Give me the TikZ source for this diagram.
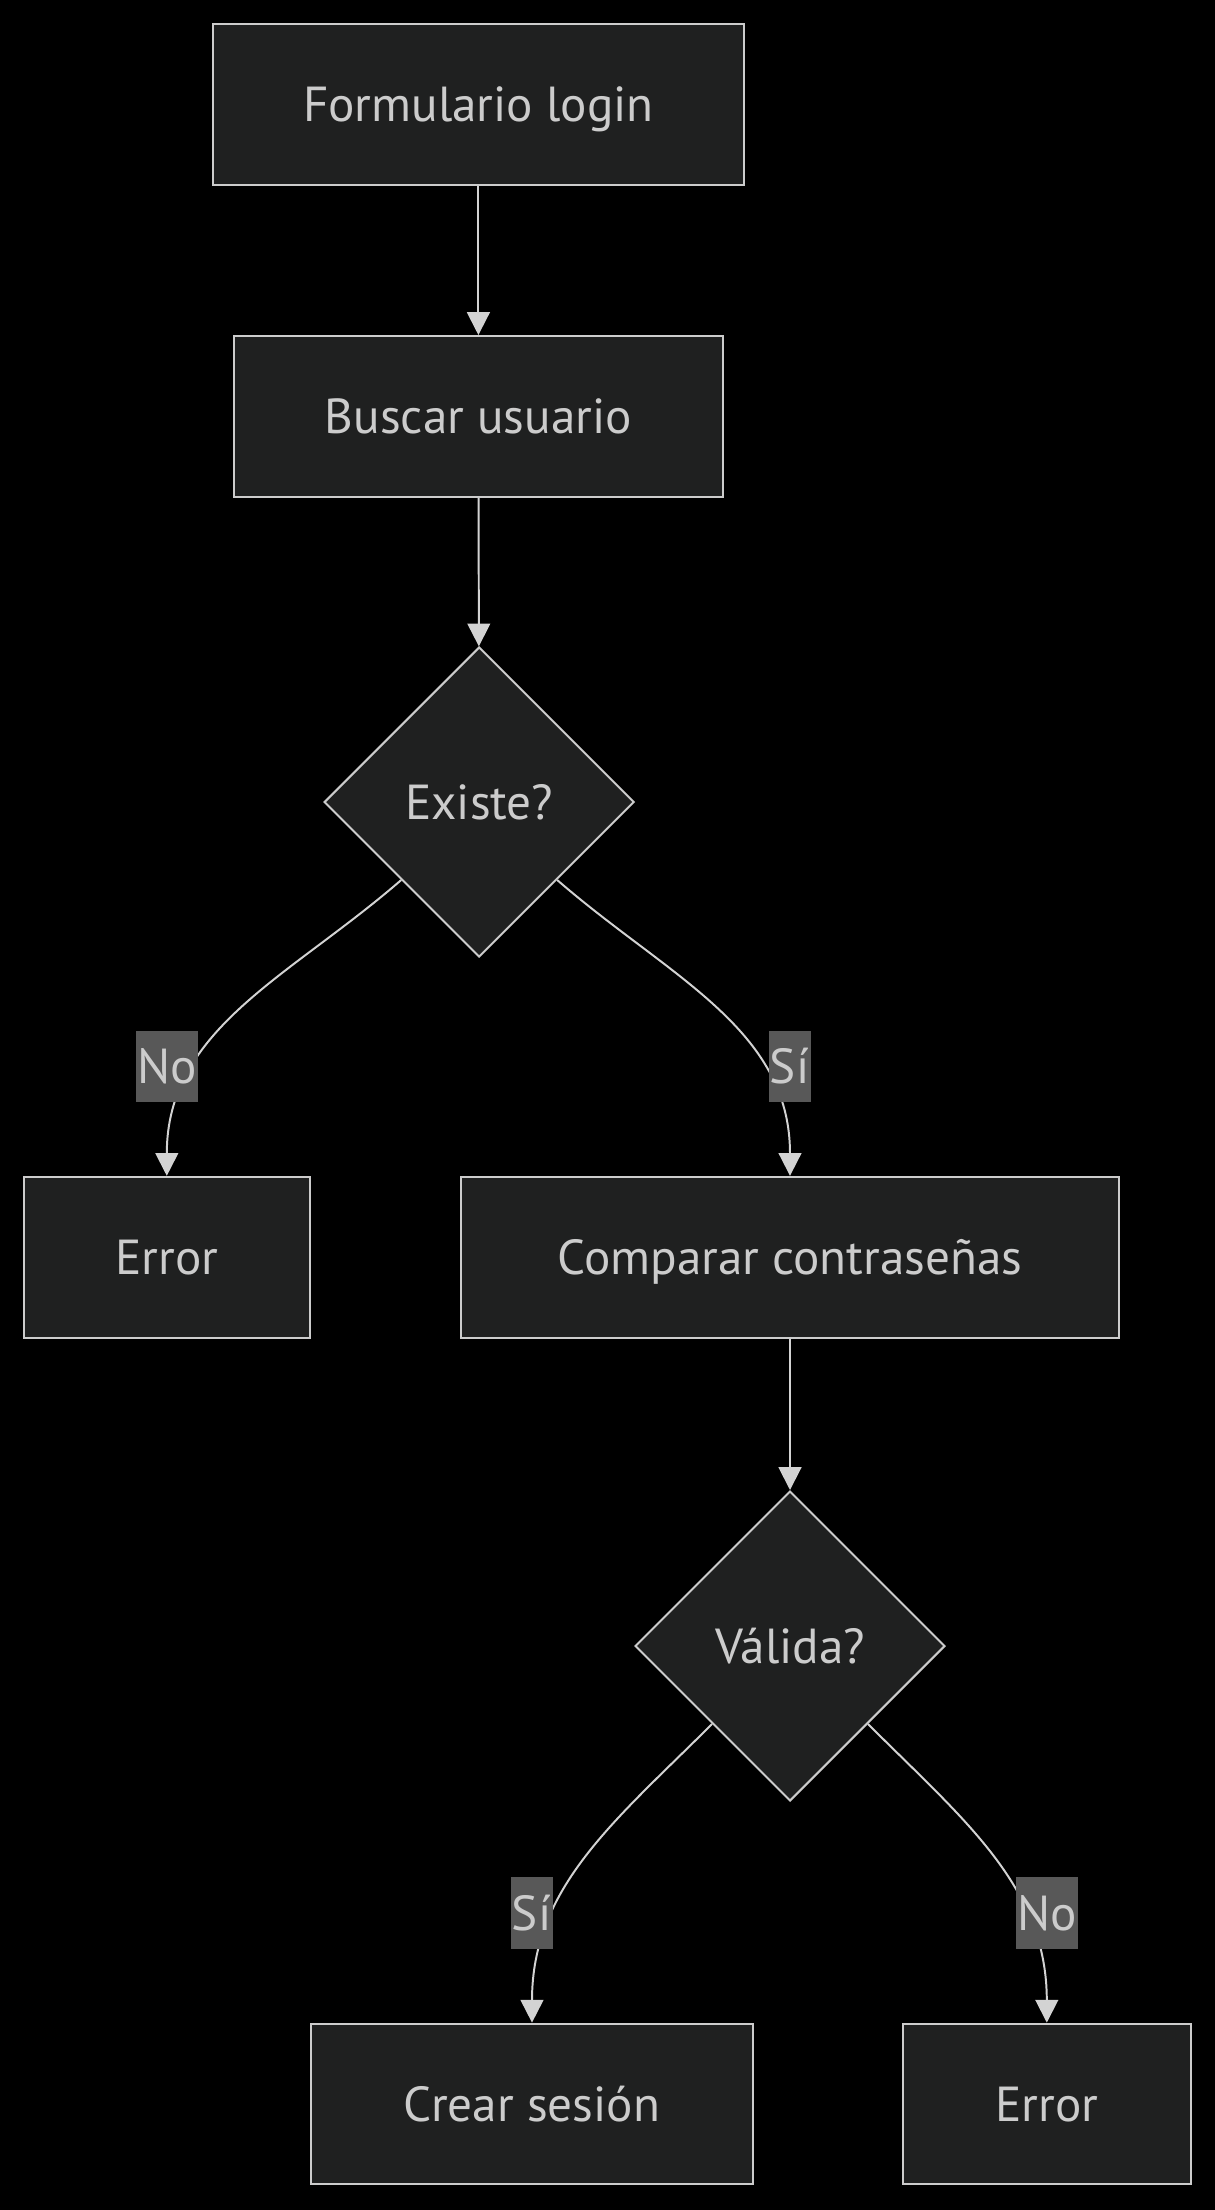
\documentclass[tikz,border=0pt]{standalone}
\usepackage{fontspec}
\setmainfont{PT Sans}
\usepackage{xcolor}
\usepackage{tikz}
\usetikzlibrary{shapes.geometric,arrows.meta}
\definecolor{bg}{HTML}{000000}
\definecolor{nodefill}{HTML}{1F2020}
\definecolor{stroke}{HTML}{CCCCCC}
\definecolor{txt}{HTML}{CCCCCC}
\definecolor{wire}{HTML}{D3D3D3}
\definecolor{lblbg}{HTML}{585858}
\tikzset{
  box/.style={draw=stroke, fill=nodefill, line width=1.4pt, minimum height=4.02cm, inner sep=0pt, text=txt, text height=29pt, text depth=4.5pt, font=\fontsize{35}{40}\selectfont},
  decision/.style={diamond, aspect=1, draw=stroke, fill=nodefill, line width=1.4pt, minimum size=7.75cm, inner sep=0pt, text=txt, text height=29pt, text depth=4.5pt, font=\fontsize{35}{40}\selectfont},
  edge/.style={draw=wire, line width=1.4pt, -{Triangle[length=0.57cm,width=0.57cm]}},
  lbl/.style={fill=lblbg, text=txt, inner xsep=1pt, inner ysep=0pt, minimum height=1.79cm, text height=29pt, text depth=4.5pt, font=\fontsize{35}{40}\selectfont},
}
\begin{document}
\begin{tikzpicture}
  \fill[bg] (0,0) rectangle (30.375,-55.25);

  \node[box, minimum width=13.28cm] (form) at (11.96,-2.61) {Formulario login};
  \node[box, minimum width=12.22cm] (buscar) at (11.96,-10.41) {Buscar usuario};
  \node[decision] (existe) at (11.98,-20.05) {Existe?};
  \node[box, minimum width=7.15cm] (err1) at (4.17,-31.43) {Error};
  \node[box, minimum width=16.45cm] (comparar) at (19.75,-31.43) {Comparar contraseñas};
  \node[decision] (valida) at (19.75,-41.15) {Válida?};
  \node[box, minimum width=11.06cm] (crear) at (13.3,-52.6) {Crear sesión};
  \node[box, minimum width=7.19cm] (err2) at (26.17,-52.6) {Error};

  \draw[edge] (form) -- (buscar);
  \draw[edge] (buscar) -- (existe);
  \draw[edge] (existe.south west) to[out=-139,in=90] (err1.north);
  \draw[edge] (existe.south east) to[out=-41,in=90] (comparar.north);
  \draw[edge] (comparar) -- (valida);
  \draw[edge] (valida.south west) to[out=-135,in=90] (crear.north);
  \draw[edge] (valida.south east) to[out=-45,in=90] (err2.north);

  % edge labels
  \node[lbl] (no1) at (4.17,-26.66) {No};
  \node[lbl] (si1) at (19.74,-26.66) {Sí};
  \node[lbl] (si2) at (13.29,-47.82) {Sí};
  \node[lbl] (no2) at (26.17,-47.82) {No};
\end{tikzpicture}
\end{document}
